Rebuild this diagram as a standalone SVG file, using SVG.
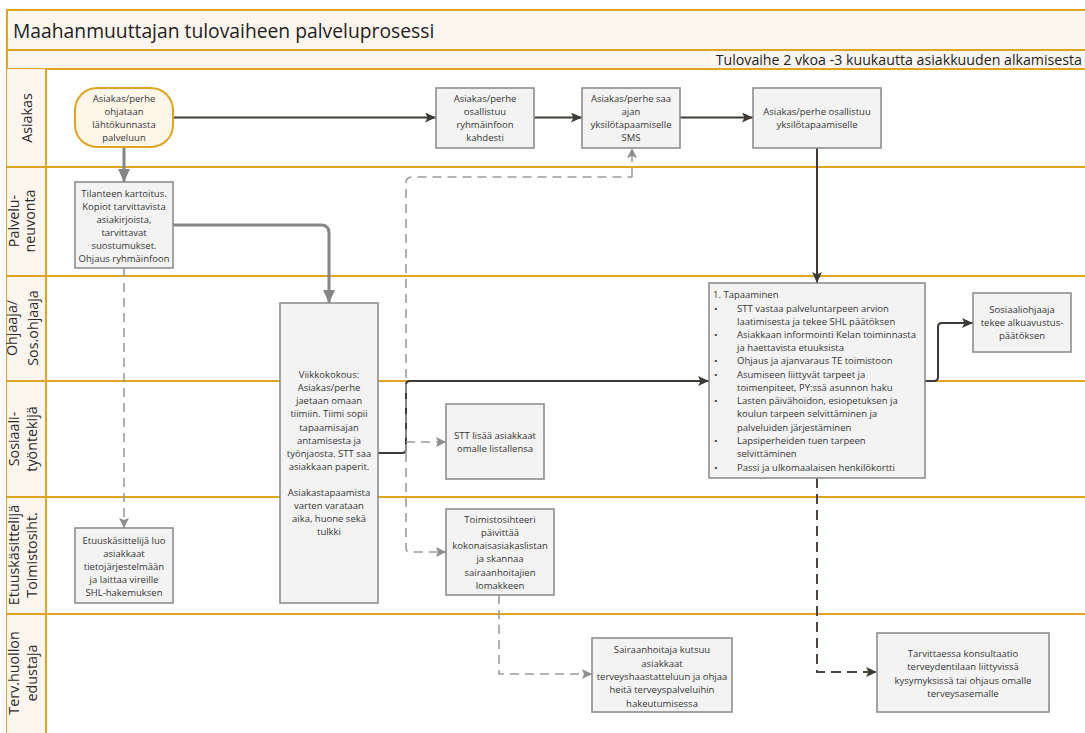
<svg xmlns="http://www.w3.org/2000/svg" width="1085" height="733" viewBox="0 0 1085 733">
  <defs>
    <style>
      .band { fill:#FDF6EF; }
      .frame { stroke:#DEA523; stroke-width:2; fill:none; }
      .title { font-family:"Open Sans","Liberation Sans",sans-serif; font-size:19.3px; fill:#222; }
      .sub { font-family:"Open Sans","Liberation Sans",sans-serif; font-size:14.2px; fill:#222; text-anchor:end; }
      .lanelbl { font-family:"Open Sans","Liberation Sans",sans-serif; font-size:14.3px; fill:#2A2A2A; text-anchor:middle; }
      .node rect { fill:#F3F3F3; stroke:#8E8E8E; stroke-width:1.6; }
      .node text { font-family:"Open Sans","Liberation Sans",sans-serif; font-size:9.5px; fill:#363636; text-anchor:middle; }
      .node text.left { text-anchor:start; }
      .start rect { fill:#FEF6E9; stroke:#DEA523; stroke-width:2; }
      .dark { stroke:#3F3A35; stroke-width:2; fill:none; marker-end:url(#ahDark); }
      .grey { stroke:#868686; stroke-width:3; fill:none; marker-end:url(#ahGrey); }
      .dgrey { stroke:#9C9C9C; stroke-width:1.6; fill:none; stroke-dasharray:9 6; marker-end:url(#ahGreyS); }
      .ddark { stroke:#4A4541; stroke-width:2; fill:none; stroke-dasharray:10 6; marker-end:url(#ahDark); }
      .dnone { marker-end:none; }
    </style>
    <marker id="ahDark" markerUnits="userSpaceOnUse" markerWidth="12" markerHeight="10" refX="11" refY="5" orient="auto">
      <path d="M0,0 L11,5 L0,10 L2.5,5 z" fill="#3F3A35"/>
    </marker>
    <marker id="ahGrey" markerUnits="userSpaceOnUse" markerWidth="14" markerHeight="12" refX="13" refY="6" orient="auto">
      <path d="M0,0 L13,6 L0,12 z" fill="#868686"/>
    </marker>
    <marker id="ahGreyS" markerUnits="userSpaceOnUse" markerWidth="11" markerHeight="10" refX="10" refY="5" orient="auto">
      <path d="M0,0 L10,5 L0,10 L2,5 z" fill="#8E8E8E"/>
    </marker>
  </defs>

  <rect width="1085" height="733" fill="#FFFFFF"/>

  <!-- header bands -->
  <g id="header">
    <rect class="band" x="7" y="10" width="1078" height="59"/>
    <path class="frame" d="M1085,10 H7 V733 M7,50 H1085 M7,69 H1085"/>
    <text class="title" x="13" y="37.5">Maahanmuuttajan tulovaiheen palveluprosessi</text>
    <text class="sub" x="1082" y="64.5">Tulovaihe 2 vkoa -3 kuukautta asiakkuuden alkamisesta</text>
  </g>

  <!-- swimlanes -->
  <g id="lanes">
    <rect class="band" x="7" y="69" width="39" height="664"/>
    <path class="frame" d="M46,69 V733 M7,167 H1085 M7,276 H1085 M7,381 H1085 M7,497 H1085 M7,614 H1085"/>
    <text class="lanelbl" transform="translate(32,118) rotate(-90)">Asiakas</text>
    <text class="lanelbl" transform="translate(19,221) rotate(-90)">Palvelu-</text>
    <text class="lanelbl" transform="translate(35,221) rotate(-90)">neuvonta</text>
    <text class="lanelbl" transform="translate(17,328) rotate(-90)">Ohjaaja/</text>
    <text class="lanelbl" transform="translate(38,328) rotate(-90)">Sos.ohjaaja</text>
    <text class="lanelbl" transform="translate(19,439) rotate(-90)">Sosiaali-</text>
    <text class="lanelbl" transform="translate(37,439) rotate(-90)">työntekijä</text>
    <text class="lanelbl" transform="translate(19,555) rotate(-90)">Etuuskäsittelijä</text>
    <text class="lanelbl" transform="translate(37,555) rotate(-90)">Toimistosiht.</text>
    <text class="lanelbl" transform="translate(19,673) rotate(-90)">Terv.huollon</text>
    <text class="lanelbl" transform="translate(37,673) rotate(-90)">edustaja</text>
  </g>

  <!-- connectors -->
  <g id="connectors">
    <path class="dark" d="M173,117.5 H436"/>
    <path class="dark" d="M534,117.5 H582"/>
    <path class="dark" d="M680,117.5 H753"/>
    <path class="dark" d="M817,148 V283"/>
    <path class="grey" d="M124,147 V182"/>
    <path class="grey" d="M173,225 H321 Q329,225 329,233 V303"/>
    <path class="dgrey" d="M124,268 V528"/>
    <path class="dark" d="M378,453 H402 Q406,453 406,449 V385 Q406,381 410,381 H709"/>
    <path class="dgrey dnone" d="M406,453 V183 Q406,177 412,177 H632"/>
    <path class="dgrey" d="M632,177 V148"/>
    <path class="dgrey" d="M406,442 H446"/>
    <path class="dgrey" d="M406,453 V548 Q406,552 410,552 H446"/>
    <path class="dark" d="M925,381 H934 Q938,381 938,377 V327 Q938,323 942,323 H973"/>
    <path class="dgrey" d="M499,595 V674 H592"/>
    <path class="ddark" d="M817,478 V672 H877"/>
  </g>

  <!-- nodes -->
  <g id="n-start" class="node start">
    <rect x="75" y="88" width="98" height="59" rx="22"/>
    <text x="124" y="101.5">Asiakas/perhe</text>
    <text x="124" y="114.5">ohjataan</text>
    <text x="124" y="127.5">lähtökunnasta</text>
    <text x="124" y="140.5">palveluun</text>
  </g>

  <g id="n-ryhmainfo" class="node">
    <rect x="436" y="88" width="98" height="60"/>
    <text x="485" y="101.5">Asiakas/perhe</text>
    <text x="485" y="114.5">osallistuu</text>
    <text x="485" y="127.5">ryhmäinfoon</text>
    <text x="485" y="140.5">kahdesti</text>
  </g>

  <g id="n-sms" class="node">
    <rect x="582" y="88" width="98" height="60"/>
    <text x="631" y="101.5">Asiakas/perhe saa</text>
    <text x="631" y="114.5">ajan</text>
    <text x="631" y="127.5">yksilötapaamiselle</text>
    <text x="631" y="140.5">SMS</text>
  </g>

  <g id="n-yksilo" class="node">
    <rect x="753" y="88" width="128" height="60"/>
    <text x="817" y="114.5">Asiakas/perhe osallistuu</text>
    <text x="817" y="127.5">yksilötapaamiselle</text>
  </g>

  <g id="n-kartoitus" class="node">
    <rect x="75" y="182" width="98" height="86"/>
    <text x="124" y="196.5">Tilanteen kartoitus.</text>
    <text x="124" y="209.5">Kopiot tarvittavista</text>
    <text x="124" y="222.5">asiakirjoista,</text>
    <text x="124" y="235.5">tarvittavat</text>
    <text x="124" y="248.5">suostumukset.</text>
    <text x="124" y="261.5">Ohjaus ryhmäinfoon</text>
  </g>

  <g id="n-viikkokokous" class="node">
    <rect x="280" y="303" width="98" height="300"/>
    <text x="329" y="377.5">Viikkokokous:</text>
    <text x="329" y="390.5">Asiakas/perhe</text>
    <text x="329" y="403.5">jaetaan omaan</text>
    <text x="329" y="416.5">tiimiin. Tiimi sopii</text>
    <text x="329" y="430.5">tapaamisajan</text>
    <text x="329" y="443.5">antamisesta ja</text>
    <text x="329" y="456.5">työnjaosta. STT saa</text>
    <text x="329" y="469.5">asiakkaan paperit.</text>
    <text x="329" y="495.5">Asiakastapaamista</text>
    <text x="329" y="508.5">varten varataan</text>
    <text x="329" y="521.5">aika, huone sekä</text>
    <text x="329" y="535">tulkki</text>
  </g>

  <g id="n-tapaaminen" class="node">
    <rect x="709" y="283" width="216" height="195"/>
    <text class="left" x="713" y="297.5">1. Tapaaminen</text>
    <text class="left" x="714" y="311.5">•</text>
    <text class="left" x="737" y="311.5">STT vastaa palveluntarpeen arvion</text>
    <text class="left" x="737" y="324.5">laatimisesta ja tekee SHL päätöksen</text>
    <text class="left" x="714" y="337.5">•</text>
    <text class="left" x="737" y="337.5">Asiakkaan informointi Kelan toiminnasta</text>
    <text class="left" x="737" y="350.5">ja haettavista etuuksista</text>
    <text class="left" x="714" y="363.5">•</text>
    <text class="left" x="737" y="363.5">Ohjaus ja ajanvaraus TE toimistoon</text>
    <text class="left" x="714" y="377.5">•</text>
    <text class="left" x="737" y="377.5">Asumiseen liittyvät tarpeet ja</text>
    <text class="left" x="737" y="390.5">toimenpiteet, PY:ssä asunnon haku</text>
    <text class="left" x="714" y="403.5">•</text>
    <text class="left" x="737" y="403.5">Lasten päivähoidon, esiopetuksen ja</text>
    <text class="left" x="737" y="416.5">koulun tarpeen selvittäminen ja</text>
    <text class="left" x="737" y="430.5">palveluiden järjestäminen</text>
    <text class="left" x="714" y="443.5">•</text>
    <text class="left" x="737" y="443.5">Lapsiperheiden tuen tarpeen</text>
    <text class="left" x="737" y="456.5">selvittäminen</text>
    <text class="left" x="714" y="470.5">•</text>
    <text class="left" x="737" y="470.5">Passi ja ulkomaalaisen henkilökortti</text>
  </g>

  <g id="n-sosohjaaja" class="node">
    <rect x="973" y="293" width="98" height="59"/>
    <text x="1022" y="312.5">Sosiaaliohjaaja</text>
    <text x="1022" y="325.5">tekee alkuavustus-</text>
    <text x="1022" y="339">päätöksen</text>
  </g>

  <g id="n-stt" class="node">
    <rect x="446" y="404" width="98" height="75"/>
    <text x="495" y="438.5">STT lisää asiakkaat</text>
    <text x="495" y="451.5">omalle listallensa</text>
  </g>

  <g id="n-etuus" class="node">
    <rect x="75" y="528" width="98" height="75"/>
    <text x="124" y="543.5">Etuuskäsittelijä luo</text>
    <text x="124" y="556.5">asiakkaat</text>
    <text x="124" y="569.5">tietojärjestelmään</text>
    <text x="124" y="582.5">ja laittaa vireille</text>
    <text x="124" y="595.5">SHL-hakemuksen</text>
  </g>

  <g id="n-toimisto" class="node">
    <rect x="446" y="509" width="108" height="86"/>
    <text x="500" y="522.5">Toimistosihteeri</text>
    <text x="500" y="535.5">päivittää</text>
    <text x="500" y="548.5">kokonaisasiakaslistan</text>
    <text x="500" y="561.5">ja skannaa</text>
    <text x="500" y="575.5">sairaanhoitajien</text>
    <text x="500" y="588.5">lomakkeen</text>
  </g>

  <g id="n-sairaanhoitaja" class="node">
    <rect x="592" y="638" width="140" height="74"/>
    <text x="662" y="652.5">Sairaanhoitaja kutsuu</text>
    <text x="662" y="666.5">asiakkaat</text>
    <text x="662" y="679.5">terveyshaastatteluun ja ohjaa</text>
    <text x="662" y="692.5">heitä terveyspalveluihin</text>
    <text x="662" y="706.5">hakeutumisessa</text>
  </g>

  <g id="n-konsultaatio" class="node">
    <rect x="877" y="633" width="172" height="79"/>
    <text x="963" y="656.5">Tarvittaessa konsultaatio</text>
    <text x="963" y="669.5">terveydentilaan liittyvissä</text>
    <text x="963" y="683.5">kysymyksissä tai ohjaus omalle</text>
    <text x="963" y="696.5">terveysasemalle</text>
  </g>
</svg>
